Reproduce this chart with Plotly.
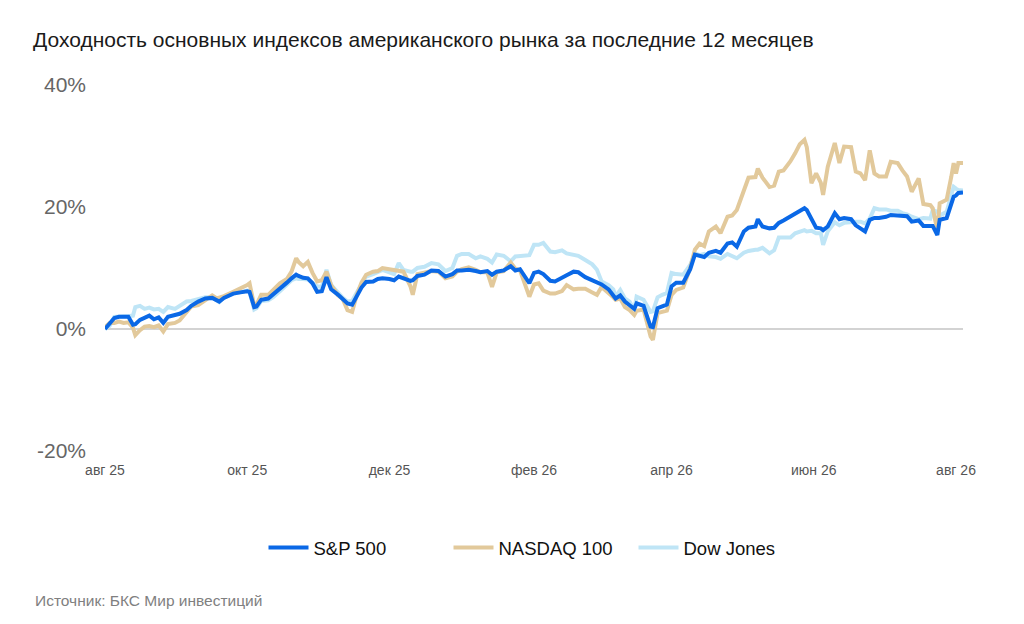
import plotly.graph_objects as go

dates = [
    "2025-08-01", "2025-08-03", "2025-08-05", "2025-08-07", "2025-08-09", "2025-08-11", "2025-08-13", "2025-08-14",
    "2025-08-16", "2025-08-18", "2025-08-20", "2025-08-22", "2025-08-24", "2025-08-26", "2025-08-28", "2025-08-31",
    "2025-09-02", "2025-09-05", "2025-09-07", "2025-09-10", "2025-09-13", "2025-09-16", "2025-09-18", "2025-09-19",
    "2025-09-21", "2025-09-25", "2025-09-28", "2025-10-01", "2025-10-02", "2025-10-04", "2025-10-05", "2025-10-07",
    "2025-10-10", "2025-10-12", "2025-10-15", "2025-10-18", "2025-10-20", "2025-10-22", "2025-10-23", "2025-10-25",
    "2025-10-27", "2025-10-29", "2025-10-31", "2025-11-02", "2025-11-04", "2025-11-06", "2025-11-09", "2025-11-11",
    "2025-11-13", "2025-11-15", "2025-11-17", "2025-11-19", "2025-11-21", "2025-11-24", "2025-11-26", "2025-11-28",
    "2025-12-01", "2025-12-03", "2025-12-05", "2025-12-07", "2025-12-10", "2025-12-11", "2025-12-13", "2025-12-16",
    "2025-12-19", "2025-12-22", "2025-12-25", "2025-12-28", "2025-12-30", "2026-01-01", "2026-01-04", "2026-01-07",
    "2026-01-09", "2026-01-12", "2026-01-14", "2026-01-16", "2026-01-19", "2026-01-22", "2026-01-24", "2026-01-26",
    "2026-01-28", "2026-01-30", "2026-02-01", "2026-02-03", "2026-02-05", "2026-02-08", "2026-02-10", "2026-02-13",
    "2026-02-15", "2026-02-18", "2026-02-20", "2026-02-23", "2026-02-26", "2026-02-28", "2026-03-02", "2026-03-05",
    "2026-03-07", "2026-03-08", "2026-03-10", "2026-03-12", "2026-03-14", "2026-03-16", "2026-03-17", "2026-03-20",
    "2026-03-22", "2026-03-23", "2026-03-24", "2026-03-26", "2026-03-28", "2026-03-30", "2026-04-01", "2026-04-03",
    "2026-04-06", "2026-04-09", "2026-04-11", "2026-04-13", "2026-04-15", "2026-04-17", "2026-04-20", "2026-04-22",
    "2026-04-25", "2026-04-27", "2026-04-29", "2026-05-02", "2026-05-04", "2026-05-07", "2026-05-08", "2026-05-10",
    "2026-05-13", "2026-05-15", "2026-05-17", "2026-05-19", "2026-05-22", "2026-05-24", "2026-05-26", "2026-05-28",
    "2026-05-29", "2026-05-31", "2026-06-02", "2026-06-04", "2026-06-05", "2026-06-07", "2026-06-10", "2026-06-12",
    "2026-06-14", "2026-06-17", "2026-06-19", "2026-06-21", "2026-06-23", "2026-06-25", "2026-06-27", "2026-06-29",
    "2026-07-02", "2026-07-04", "2026-07-07", "2026-07-09", "2026-07-11", "2026-07-13", "2026-07-16", "2026-07-18",
    "2026-07-21", "2026-07-22", "2026-07-24", "2026-07-25", "2026-07-28", "2026-07-30", "2026-07-31", "2026-08-01",
    "2026-08-02", "2026-08-04",
]

sp500 = [
    0.0, 0.8, 1.8, 2.0, 2.0, 2.0, 0.7, 0.8, 1.5, 1.8, 2.2, 1.6, 1.9, 1.0, 2.0, 2.3,
    2.5, 3.1, 3.8, 4.5, 5.0, 5.1, 4.7, 4.5, 5.1, 5.8, 6.0, 6.2, 6.1, 3.6, 3.7, 4.8,
    5.0, 5.6, 6.6, 7.6, 8.3, 8.9, 8.7, 8.4, 8.3, 7.5, 6.1, 6.2, 8.5, 6.5, 5.6, 5.0,
    4.2, 4.0, 5.5, 6.8, 7.7, 7.8, 8.2, 8.3, 8.2, 8.0, 8.6, 8.3, 7.9, 8.0, 8.7, 8.9,
    9.6, 9.5, 8.6, 9.0, 9.6, 9.6, 9.7, 9.5, 9.3, 9.5, 8.9, 9.4, 9.6, 10.3, 9.6, 9.8,
    8.6, 7.5, 9.2, 9.4, 9.0, 7.9, 7.8, 8.3, 8.8, 9.4, 9.3, 8.5, 8.0, 7.5, 7.3, 6.5,
    5.6, 5.0, 5.5, 4.5, 3.9, 3.3, 4.2, 3.8, 1.5, 0.4, 0.3, 3.4, 3.7, 4.0, 7.0, 7.6,
    7.6, 9.8, 12.2, 12.0, 11.8, 12.5, 12.8, 12.5, 14.0, 14.2, 13.5, 16.0, 16.6, 16.8, 18.0, 16.8,
    16.5, 16.6, 17.4, 17.8, 18.5, 19.0, 19.5, 19.8, 19.5, 17.9, 16.6, 16.5, 16.2, 16.8, 19.0, 18.0,
    18.2, 18.0, 17.0, 16.5, 16.0, 17.9, 18.2, 18.2, 18.4, 18.7, 18.6, 18.6, 18.5, 17.6, 17.8, 16.9,
    16.8, 16.9, 15.4, 17.9, 18.2, 20.5, 21.7, 21.9, 22.3, 22.4,
]

nasdaq100 = [
    0.3, 1.0, 1.0, 1.2, 1.0, 1.1, 0.2, -1.0, -0.2, 0.4, 0.5, 0.3, 0.6, -0.4, 0.8, 1.0,
    1.4, 2.8, 3.7, 3.9, 4.8, 5.5, 5.0, 5.1, 5.4, 6.1, 6.6, 7.2, 7.5, 3.8, 4.0, 5.6,
    5.6, 6.3, 7.5, 8.2, 9.4, 11.6, 11.0, 10.3, 11.0, 9.2, 7.8, 8.0, 9.4, 7.2, 5.5, 4.9,
    3.1, 2.8, 5.6, 7.6, 8.9, 9.4, 9.5, 10.0, 9.8, 9.7, 9.6, 9.4, 7.0, 5.6, 9.0, 9.2,
    9.5, 9.4, 8.3, 8.6, 9.4, 9.8, 10.1, 9.7, 9.3, 9.3, 6.9, 9.3, 9.5, 10.9, 9.9, 9.6,
    7.6, 5.3, 7.3, 7.5, 6.3, 5.8, 5.8, 6.2, 7.2, 6.5, 6.6, 6.6, 6.0, 5.6, 6.9, 6.0,
    5.2, 4.8, 5.0, 3.6, 3.1, 2.3, 3.0, 3.2, 0.3, -1.2, -1.8, 2.6, 2.8, 3.0, 5.6, 6.4,
    6.8, 10.0, 13.0, 14.0, 13.6, 16.0, 16.8, 15.7, 18.4, 18.6, 19.5, 22.8, 24.8, 24.9, 26.3, 24.8,
    23.3, 23.5, 25.8, 26.0, 27.5, 28.8, 30.3, 31.0, 29.8, 23.9, 25.5, 24.0, 22.0, 26.6, 30.5, 27.2,
    29.9, 29.8, 25.8, 25.5, 24.4, 29.3, 25.5, 25.0, 25.0, 27.4, 27.2, 26.0, 25.0, 22.5, 24.7, 20.5,
    20.3, 19.8, 16.2, 20.6, 21.2, 25.0, 27.2, 25.5, 27.2, 27.2,
]

dowjones = [
    0.0, 0.5, 2.0, 2.1, 2.1, 2.1, 2.2, 3.6, 3.8, 3.3, 3.5, 3.2, 3.3, 2.8, 3.6, 3.3,
    3.8, 4.5, 4.6, 4.9, 5.2, 5.2, 4.7, 4.4, 5.2, 5.8, 6.0, 6.3, 6.1, 3.2, 3.4, 4.6,
    4.7, 5.2, 6.2, 7.2, 8.0, 8.3, 8.2, 8.2, 8.1, 7.6, 7.0, 6.9, 9.7, 7.2, 5.8, 5.1,
    4.5, 4.6, 6.0, 7.3, 8.6, 9.0, 9.4, 9.7, 9.3, 9.0, 10.8, 9.7, 9.4, 9.4, 10.0, 10.2,
    10.8, 10.6, 9.5, 10.0, 12.0, 12.3, 12.3, 11.6, 11.9, 11.5, 10.9, 12.2, 12.0, 11.1, 11.9, 12.0,
    12.0, 12.1, 13.8, 13.8, 14.1, 12.7, 12.6, 12.9, 12.4, 12.1, 12.0, 11.3, 10.6, 9.7, 7.8, 7.2,
    6.5, 5.3, 6.4, 5.0, 4.5, 3.1, 5.3, 4.8, 3.5, 2.8, 2.9, 5.2, 5.6, 5.9, 9.2, 9.0,
    8.9, 10.5, 12.4, 12.1, 12.3, 11.9, 11.8, 11.5, 12.3, 12.0, 11.6, 12.5, 12.8, 13.0, 13.0, 13.3,
    12.4, 12.9, 15.0, 15.0, 15.0, 15.7, 16.0, 16.2, 16.0, 16.1, 15.7, 15.7, 13.8, 16.0, 17.5, 17.0,
    17.4, 17.6, 17.6, 17.6, 17.3, 18.1, 19.8, 19.6, 19.6, 19.4, 19.4, 19.0, 18.8, 18.4, 18.0, 18.2,
    18.1, 19.5, 19.2, 18.6, 19.2, 22.0, 23.3, 23.0, 22.8, 22.7,
]

series_names = ["S&P 500", "NASDAQ 100", "Dow Jones"]
series_colors = ["#0a68e6", "#e2c99b", "#bfe5f6"]

x_tick_vals = ["2025-08-01", "2025-10-01", "2025-12-01", "2026-02-01", "2026-04-01", "2026-06-01", "2026-08-01"]
x_tick_text = ["авг 25", "окт 25", "дек 25", "фев 26", "апр 26", "июн 26", "авг 26"]
y_tick_vals = [-20, 0, 20, 40]
y_tick_text = ["-20%", "0%", "20%", "40%"]

title_text = "Доходность основных индексов американского рынка за последние 12 месяцев"
source_text = "Источник: БКС Мир инвестиций"

FONT = "Liberation Sans, Arial, sans-serif"

fig = go.Figure()
values = [sp500, nasdaq100, dowjones]
# draw Dow Jones first (bottom), S&P 500 last (top); legendrank keeps legend order
for i in [2, 1, 0]:
    fig.add_trace(go.Scatter(
        x=dates, y=values[i], mode="lines", name=series_names[i],
        legendrank=i + 1,
        line=dict(color=series_colors[i], width=4),
    ))

fig.update_layout(
    width=1024, height=624, autosize=False,
    paper_bgcolor="white", plot_bgcolor="white",
    margin=dict(l=105, r=61, t=85, b=173),
    font=dict(family=FONT, color="#222"),
    title=dict(text=title_text, x=33 / 1024, xref="container", xanchor="left",
               y=1 - 40 / 624, yref="container", yanchor="middle",
               font=dict(size=21, color="#1a1a1a", family=FONT)),
    showlegend=True,
    legend=dict(orientation="h", traceorder="normal", entrywidth=130, entrywidthmode="pixels",
                xref="container", yref="container",
                x=541 / 1024, xanchor="center", y=1 - 548 / 624, yanchor="middle",
                font=dict(size=18.5, color="#111", family=FONT), itemwidth=40),
    xaxis=dict(type="date", range=["2025-08-01", "2026-08-04"], showgrid=False, zeroline=False,
               showline=False, ticks="", tickvals=x_tick_vals, ticktext=x_tick_text,
               tickfont=dict(size=14, color="#555", family=FONT), ticklabelstandoff=9),
    yaxis=dict(range=[-20, 40], showgrid=False, zeroline=True, zerolinecolor="#d3d3d3",
               zerolinewidth=2, showline=False, ticks="", tickvals=y_tick_vals, ticktext=y_tick_text,
               tickfont=dict(size=21, color="#666", family=FONT), ticklabelstandoff=18),
    annotations=[dict(text=source_text, xref="paper", x=(33 - 105) / 858, xanchor="left",
                      yref="paper", y=(624 - 600 - 173) / 366, yanchor="middle", showarrow=False,
                      font=dict(size=15.5, color="#808080", family=FONT))],
)

fig.write_html("out.html", config={"displayModeBar": False},
               post_script="document.body.style.margin='0';")
